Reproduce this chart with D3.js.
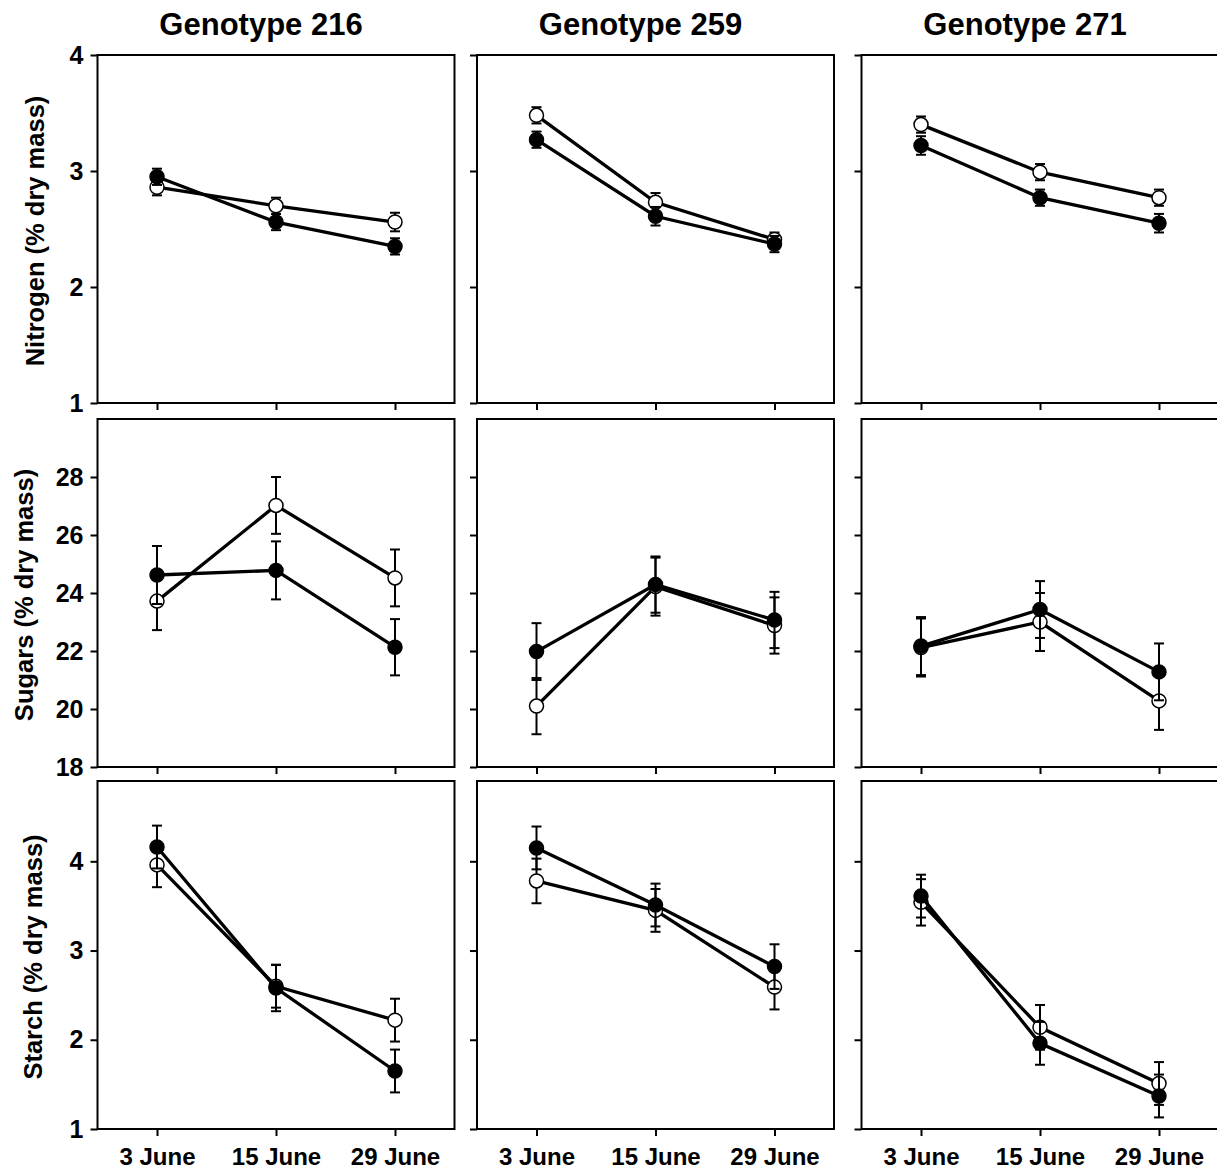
<!DOCTYPE html>
<html>
<head>
<meta charset="utf-8">
<script src="https://cdn.jsdelivr.net/npm/d3@7"></script>
<style>
  body { margin: 0; background: #fff; }
  text { font-family: "Liberation Sans", Arial, sans-serif; font-weight: bold; fill: #000; }
</style>
</head>
<body>
<div id="chart"></div>
<script>
const dates = ["3 June", "15 June", "29 June"];
const genotypes = ["Genotype 216", "Genotype 259", "Genotype 271"];
const yLabels = ["Nitrogen (% dry mass)", "Sugars (% dry mass)", "Starch (% dry mass)"];

// one row per genotype, values per date
const nitrogenFilled = [[2.95, 2.56, 2.35], [3.27, 2.61, 2.37], [3.22, 2.77, 2.55]];
const nitrogenFilledSE = [[0.07, 0.07, 0.07], [0.07, 0.08, 0.07], [0.08, 0.07, 0.08]];
const nitrogenOpen = [[2.86, 2.70, 2.56], [3.48, 2.73, 2.41], [3.40, 2.99, 2.77]];
const nitrogenOpenSE = [[0.07, 0.07, 0.08], [0.07, 0.08, 0.06], [0.07, 0.07, 0.07]];

const sugarsFilled = [[24.62, 24.78, 22.13], [21.98, 24.29, 23.07], [22.17, 23.43, 21.28]];
const sugarsFilledSE = [[1.0, 1.0, 0.97], [0.98, 0.97, 0.97], [1.0, 0.98, 0.98]];
const sugarsOpen = [[23.72, 27.02, 24.52], [20.10, 24.22, 22.88], [22.12, 23.0, 20.28]];
const sugarsOpenSE = [[1.0, 0.98, 0.98], [0.97, 1.0, 0.97], [1.0, 1.0, 1.0]];

const starchFilled = [[4.16, 2.58, 1.65], [4.15, 3.51, 2.82], [3.61, 1.96, 1.37]];
const starchFilledSE = [[0.24, 0.26, 0.24], [0.24, 0.24, 0.25], [0.24, 0.24, 0.24]];
const starchOpen = [[3.96, 2.60, 2.22], [3.78, 3.45, 2.59], [3.54, 2.14, 1.51]];
const starchOpenSE = [[0.25, 0.24, 0.24], [0.25, 0.24, 0.25], [0.26, 0.25, 0.24]];

const yDomains = [[1, 4], [18, 30], [1, 4.9]];
const yTicks = [[1, 2, 3, 4], [18, 20, 22, 24, 26, 28], [1, 2, 3, 4]];

const rows = [
  {filled: nitrogenFilled, filledSE: nitrogenFilledSE, open: nitrogenOpen, openSE: nitrogenOpenSE},
  {filled: sugarsFilled, filledSE: sugarsFilledSE, open: sugarsOpen, openSE: sugarsOpenSE},
  {filled: starchFilled, filledSE: starchFilledSE, open: starchOpen, openSE: starchOpenSE}
];

const W = 1217, H = 1172;
const colLeft = [97.5, 477, 861.5];
const rowTop = [55, 419, 781];
const pw = 357, ph = 348;
const labelX = [44, 33, 42];

const svg = d3.select("#chart").append("svg")
  .attr("width", W).attr("height", H);

// titles
genotypes.forEach((g, c) => {
  svg.append("text")
    .attr("x", colLeft[c] + pw / 2 - 15)
    .attr("y", 35)
    .attr("text-anchor", "middle")
    .style("font-size", "31px")
    .text(g);
});

rows.forEach((row, r) => {
  const y = d3.scaleLinear().domain(yDomains[r]).range([rowTop[r] + ph, rowTop[r]]);

  // y axis label
  svg.append("text")
    .attr("transform", `translate(${labelX[r]},${rowTop[r] + ph / 2 + 2}) rotate(-90)`)
    .attr("text-anchor", "middle")
    .style("font-size", "25.5px")
    .text(yLabels[r]);

  genotypes.forEach((g, c) => {
    const x = d3.scalePoint().domain(dates).range([colLeft[c], colLeft[c] + pw]).padding(0.5);
    const panel = svg.append("g");

    panel.append("rect")
      .attr("x", colLeft[c]).attr("y", rowTop[r])
      .attr("width", pw).attr("height", ph)
      .attr("fill", "none").attr("stroke", "#000").attr("stroke-width", 2);

    const yAxis = d3.axisLeft(y).tickValues(yTicks[r]).tickSize(7).tickPadding(7)
      .tickFormat(c === 0 ? d3.format("d") : () => "");
    const ya = panel.append("g").attr("transform", `translate(${colLeft[c]},0)`).call(yAxis);

    const xAxis = d3.axisBottom(x).tickSize(7).tickPadding(12)
      .tickFormat(r === 2 ? d => d : () => "");
    const xa = panel.append("g").attr("transform", `translate(0,${rowTop[r] + ph})`).call(xAxis);

    [ya, xa].forEach(a => {
      a.select(".domain").remove();
      a.selectAll(".tick line").attr("stroke", "#000").attr("stroke-width", 2);
      a.selectAll(".tick text")
        .style("font-family", "'Liberation Sans', Arial, sans-serif")
        .style("font-weight", "bold").attr("fill", "#000");
    });
    ya.selectAll(".tick text").style("font-size", "25px");
    xa.selectAll(".tick text").style("font-size", "24px");

    const series = [
      {vals: row.open[c], se: row.openSE[c], fill: "#fff"},
      {vals: row.filled[c], se: row.filledSE[c], fill: "#000"}
    ];

    series.forEach(s => {
      const pts = dates.map((d, i) => ({d: d, v: s.vals[i], e: s.se[i]}));
      const eb = panel.append("g");
      pts.forEach(p => {
        const cx = x(p.d);
        eb.append("line").attr("x1", cx).attr("x2", cx)
          .attr("y1", y(p.v - p.e)).attr("y2", y(p.v + p.e))
          .attr("stroke", "#000").attr("stroke-width", 2);
        [p.v - p.e, p.v + p.e].forEach(v => {
          eb.append("line").attr("x1", cx - 5).attr("x2", cx + 5)
            .attr("y1", y(v)).attr("y2", y(v))
            .attr("stroke", "#000").attr("stroke-width", 2);
        });
      });

      panel.append("path")
        .datum(pts)
        .attr("fill", "none").attr("stroke", "#000").attr("stroke-width", 3.3)
        .attr("d", d3.line().x(p => x(p.d)).y(p => y(p.v)));

      panel.selectAll(null).data(pts).enter().append("circle")
        .attr("cx", p => x(p.d)).attr("cy", p => y(p.v))
        .attr("r", 7)
        .attr("fill", s.fill).attr("stroke", "#000").attr("stroke-width", 1.5);
    });
  });
});
</script>
</body>
</html>
